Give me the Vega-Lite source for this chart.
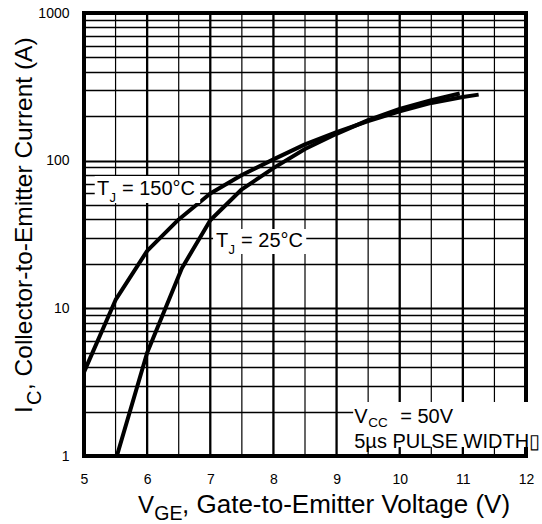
{
  "$schema": "https://vega.github.io/schema/vega-lite/v6.json",
  "width": 442,
  "height": 443,
  "autosize": {"type": "none"},
  "padding": {"left": 84, "top": 13, "right": 16, "bottom": 68},
  "background": "white",
  "config": {
    "view": {"stroke": "black", "strokeWidth": 4},
    "font": "Liberation Sans",
    "axis": {
      "labelFont": "Liberation Sans",
      "labelColor": "black",
      "labelFontSize": 14,
      "ticks": false,
      "tickSize": 0,
      "domain": false,
      "gridColor": "black",
      "gridOpacity": 1,
      "labelOverlap": false,
      "labelFlush": false
    },
    "text": {"font": "Liberation Sans", "color": "black", "align": "left", "baseline": "alphabetic"}
  },
  "layer": [
    {
      "data": {"values": [{"v": 5.5}, {"v": 6.5}, {"v": 7.5}, {"v": 8.5}, {"v": 9.5}, {"v": 10.5}, {"v": 11.5}]},
      "mark": {"type": "rule", "color": "black", "strokeWidth": 1.2},
      "encoding": {"x": {"field": "v", "type": "quantitative", "title": null}}
    },
    {
      "data": {"values": [{"v": 6}, {"v": 7}, {"v": 8}, {"v": 9}, {"v": 10}, {"v": 11}]},
      "mark": {"type": "rule", "color": "black", "strokeWidth": 2.3},
      "encoding": {"x": {"field": "v", "type": "quantitative", "title": null}}
    },
    {
      "data": {"values": [
        {"series": "TJ = 150°C", "vge": 5.0, "ic": 3.7},
        {"series": "TJ = 150°C", "vge": 5.5, "ic": 11.4},
        {"series": "TJ = 150°C", "vge": 6.0, "ic": 24.5},
        {"series": "TJ = 150°C", "vge": 6.5, "ic": 40},
        {"series": "TJ = 150°C", "vge": 7.0, "ic": 60},
        {"series": "TJ = 150°C", "vge": 7.5, "ic": 80},
        {"series": "TJ = 150°C", "vge": 8.0, "ic": 102},
        {"series": "TJ = 150°C", "vge": 8.5, "ic": 129},
        {"series": "TJ = 150°C", "vge": 9.0, "ic": 156},
        {"series": "TJ = 150°C", "vge": 9.5, "ic": 185},
        {"series": "TJ = 150°C", "vge": 10.0, "ic": 216},
        {"series": "TJ = 150°C", "vge": 10.5, "ic": 246},
        {"series": "TJ = 150°C", "vge": 11.0, "ic": 270},
        {"series": "TJ = 150°C", "vge": 11.25, "ic": 280},
        {"series": "TJ = 25°C", "vge": 5.52, "ic": 1.0},
        {"series": "TJ = 25°C", "vge": 6.0, "ic": 5.0},
        {"series": "TJ = 25°C", "vge": 6.55, "ic": 18.7},
        {"series": "TJ = 25°C", "vge": 7.0, "ic": 39.5},
        {"series": "TJ = 25°C", "vge": 7.5, "ic": 64},
        {"series": "TJ = 25°C", "vge": 8.0, "ic": 89},
        {"series": "TJ = 25°C", "vge": 8.5, "ic": 120},
        {"series": "TJ = 25°C", "vge": 9.0, "ic": 152},
        {"series": "TJ = 25°C", "vge": 9.5, "ic": 188},
        {"series": "TJ = 25°C", "vge": 10.0, "ic": 224},
        {"series": "TJ = 25°C", "vge": 10.5, "ic": 257},
        {"series": "TJ = 25°C", "vge": 10.95, "ic": 285}
      ]},
      "mark": {"type": "line", "color": "black", "strokeWidth": 4, "strokeCap": "butt", "strokeJoin": "round", "clip": true},
      "encoding": {
        "x": {
          "field": "vge", "type": "quantitative", "title": null,
          "scale": {"domain": [5, 12], "nice": false, "zero": false},
          "axis": {
            "grid": false,
            "values": [5, 6, 7, 8, 9, 10, 11, 12],
            "format": "d",
            "labelPadding": 16,
            "title": null
          }
        },
        "y": {
          "field": "ic", "type": "quantitative", "title": null,
          "scale": {"type": "log", "domain": [1, 1000], "nice": false},
          "axis": {
            "grid": true,
            "values": [1, 2, 3, 4, 5, 6, 7, 8, 9, 10, 20, 30, 40, 50, 60, 70, 80, 90, 100, 200, 300, 400, 500, 600, 700, 800, 900, 1000],
            "labelExpr": "(datum.value === 1 || datum.value === 10 || datum.value === 100 || datum.value === 1000) ? format(datum.value, 'd') : ''",
            "gridWidth": {"condition": {"test": "datum.value === 1 || datum.value === 10 || datum.value === 100 || datum.value === 1000", "value": 2.2}, "value": 1.5},
            "labelPadding": 15,
            "title": null
          }
        },
        "detail": {"field": "series"}
      }
    },
    {
      "data": {"values": [{}]},
      "mark": {"type": "rect", "fill": "white"},
      "encoding": {
        "x": {"datum": 5.17, "type": "quantitative", "title": null}, "x2": {"datum": 6.84},
        "y": {"datum": 51.6, "type": "quantitative", "title": null}, "y2": {"datum": 78.6}
      }
    },
    {
      "data": {"values": [{}]},
      "mark": {"type": "rect", "fill": "white"},
      "encoding": {
        "x": {"datum": 7.044, "type": "quantitative", "title": null}, "x2": {"datum": 8.52},
        "y": {"datum": 23.3, "type": "quantitative", "title": null}, "y2": {"datum": 34.4}
      }
    },
    {
      "data": {"values": [{}]},
      "mark": {"type": "rect", "fill": "white"},
      "encoding": {
        "x": {"datum": 9.263, "type": "quantitative", "title": null}, "x2": {"datum": 12.04},
        "y": {"datum": 1.15, "type": "quantitative", "title": null}, "y2": {"datum": 2.32}
      }
    },
    {
      "data": {"values": [{}]},
      "mark": {"type": "text", "text": "T", "fontSize": 20},
      "encoding": {"x": {"datum": 5.206, "type": "quantitative", "title": null}, "y": {"datum": 58.5, "type": "quantitative", "title": null}}
    },
    {
      "data": {"values": [{}]},
      "mark": {"type": "text", "text": "J", "fontSize": 13, "dx": 12.5, "dy": 7},
      "encoding": {"x": {"datum": 5.206, "type": "quantitative", "title": null}, "y": {"datum": 58.5, "type": "quantitative", "title": null}}
    },
    {
      "data": {"values": [{}]},
      "mark": {"type": "text", "text": "= 150°C", "fontSize": 20, "dx": 25},
      "encoding": {"x": {"datum": 5.206, "type": "quantitative", "title": null}, "y": {"datum": 58.5, "type": "quantitative", "title": null}}
    },
    {
      "data": {"values": [{}]},
      "mark": {"type": "text", "text": "T", "fontSize": 20},
      "encoding": {"x": {"datum": 7.092, "type": "quantitative", "title": null}, "y": {"datum": 26.0, "type": "quantitative", "title": null}}
    },
    {
      "data": {"values": [{}]},
      "mark": {"type": "text", "text": "J", "fontSize": 13, "dx": 12.5, "dy": 7},
      "encoding": {"x": {"datum": 7.092, "type": "quantitative", "title": null}, "y": {"datum": 26.0, "type": "quantitative", "title": null}}
    },
    {
      "data": {"values": [{}]},
      "mark": {"type": "text", "text": "= 25°C", "fontSize": 20, "dx": 25},
      "encoding": {"x": {"datum": 7.092, "type": "quantitative", "title": null}, "y": {"datum": 26.0, "type": "quantitative", "title": null}}
    },
    {
      "data": {"values": [{}]},
      "mark": {"type": "text", "text": "V", "fontSize": 20},
      "encoding": {"x": {"datum": 9.28, "type": "quantitative", "title": null}, "y": {"datum": 1.68, "type": "quantitative", "title": null}}
    },
    {
      "data": {"values": [{}]},
      "mark": {"type": "text", "text": "CC", "fontSize": 13.5, "dx": 14, "dy": 4},
      "encoding": {"x": {"datum": 9.28, "type": "quantitative", "title": null}, "y": {"datum": 1.68, "type": "quantitative", "title": null}}
    },
    {
      "data": {"values": [{}]},
      "mark": {"type": "text", "text": "= 50V", "fontSize": 20, "dx": 46},
      "encoding": {"x": {"datum": 9.28, "type": "quantitative", "title": null}, "y": {"datum": 1.68, "type": "quantitative", "title": null}}
    },
    {
      "data": {"values": [{}]},
      "mark": {"type": "text", "text": "5µs PULSE WIDTH▯", "fontSize": 20, "dy": 25.5},
      "encoding": {"x": {"datum": 9.28, "type": "quantitative", "title": null}, "y": {"datum": 1.68, "type": "quantitative", "title": null}}
    },
    {
      "data": {"values": [{}]},
      "mark": {"type": "text", "text": "V", "fontSize": 24},
      "encoding": {"x": {"datum": 5.856, "type": "quantitative", "title": null}, "y": {"datum": 0.411, "type": "quantitative", "title": null}}
    },
    {
      "data": {"values": [{}]},
      "mark": {"type": "text", "text": "GE", "fontSize": 19.5, "dx": 16.2, "dy": 7},
      "encoding": {"x": {"datum": 5.856, "type": "quantitative", "title": null}, "y": {"datum": 0.411, "type": "quantitative", "title": null}}
    },
    {
      "data": {"values": [{}]},
      "mark": {"type": "text", "text": ", Gate-to-Emitter Voltage (V)", "fontSize": 26, "dx": 44},
      "encoding": {"x": {"datum": 5.856, "type": "quantitative", "title": null}, "y": {"datum": 0.411, "type": "quantitative", "title": null}}
    },
    {
      "data": {"values": [{}]},
      "mark": {"type": "text", "text": "I", "fontSize": 24.5, "angle": 270},
      "encoding": {"x": {"datum": 4.176, "type": "quantitative", "title": null}, "y": {"datum": 1.955, "type": "quantitative", "title": null}}
    },
    {
      "data": {"values": [{}]},
      "mark": {"type": "text", "text": "C", "fontSize": 20, "angle": 270, "dx": 8, "dy": 8.7},
      "encoding": {"x": {"datum": 4.176, "type": "quantitative", "title": null}, "y": {"datum": 1.955, "type": "quantitative", "title": null}}
    },
    {
      "data": {"values": [{}]},
      "mark": {"type": "text", "text": ", Collector-to-Emitter Current (A)", "fontSize": 24.5, "angle": 270, "dx": 23},
      "encoding": {"x": {"datum": 4.176, "type": "quantitative", "title": null}, "y": {"datum": 1.955, "type": "quantitative", "title": null}}
    }
  ]
}
